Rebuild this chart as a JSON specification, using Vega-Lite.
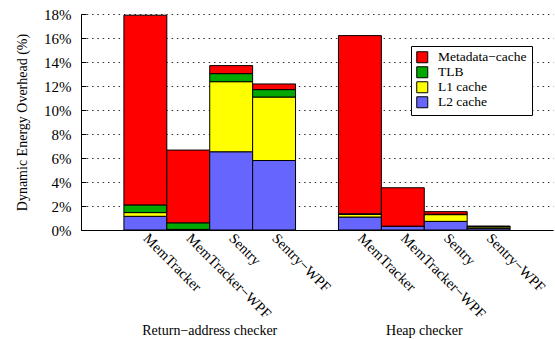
{
  "$schema": "https://vega.github.io/schema/vega-lite/v6.json",
  "width": 472,
  "height": 216,
  "autosize": {"type": "none"},
  "padding": {"left": 81, "top": 14, "right": 2, "bottom": 109},
  "config": {
    "font": "Liberation Serif",
    "view": {"stroke": null},
    "axis": {"labelColor": "black", "titleColor": "black", "domainColor": "black", "tickColor": "black", "labelFont": "Liberation Serif", "titleFont": "Liberation Serif", "titleFontWeight": "normal"},
    "legend": {"labelFont": "Liberation Serif", "labelColor": "black"}
  },
  "layer": [
    {
      "data": {
        "values": [
          {"key": "R:MemTracker", "l2": 1.14, "l1": 0.31, "tlb": 0.64, "meta": 15.81},
          {"key": "R:MemTracker−WPF", "l2": 0.03, "l1": 0.02, "tlb": 0.55, "meta": 6.06},
          {"key": "R:Sentry", "l2": 6.52, "l1": 5.84, "tlb": 0.67, "meta": 0.67},
          {"key": "R:Sentry−WPF", "l2": 5.79, "l1": 5.29, "tlb": 0.62, "meta": 0.47},
          {"key": "H:MemTracker", "l2": 1.08, "l1": 0.22, "tlb": 0.05, "meta": 14.85},
          {"key": "H:MemTracker−WPF", "l2": 0.3, "l1": 0.01, "tlb": 0.01, "meta": 3.2},
          {"key": "H:Sentry", "l2": 0.72, "l1": 0.56, "tlb": 0.04, "meta": 0.21},
          {"key": "H:Sentry−WPF", "l2": 0.14, "l1": 0.12, "tlb": 0.03, "meta": 0.04}
        ]
      },
      "transform": [
        {"fold": ["l2", "l1", "tlb", "meta"], "as": ["series", "value"]},
        {"stack": "value", "groupby": ["key"], "as": ["y0", "y1"]}
      ],
      "mark": {"type": "bar", "stroke": "black", "strokeWidth": 1},
      "encoding": {
        "x": {
          "field": "key",
          "type": "nominal",
          "scale": {
            "domain": ["g1", "R:MemTracker", "R:MemTracker−WPF", "R:Sentry", "R:Sentry−WPF", "g2", "H:MemTracker", "H:MemTracker−WPF", "H:Sentry", "H:Sentry−WPF", "g3"],
            "paddingInner": 0,
            "paddingOuter": 0
          },
          "axis": {
            "title": null,
            "values": ["R:MemTracker", "R:MemTracker−WPF", "R:Sentry", "R:Sentry−WPF", "H:MemTracker", "H:MemTracker−WPF", "H:Sentry", "H:Sentry−WPF"],
            "labelExpr": "split(datum.label, ':')[1]",
            "labelAngle": 45,
            "labelAlign": "left",
            "labelBaseline": "middle",
            "labelFontSize": 14.5,
            "labelPadding": 6,
            "ticks": false,
            "grid": false,
            "domainWidth": 1
          }
        },
        "y": {
          "field": "y0",
          "type": "quantitative",
          "scale": {"domain": [0, 18], "nice": false},
          "axis": {
            "title": "Dynamic Energy Overhead (%)",
            "titleFontSize": 14,
            "titlePadding": 14,
            "values": [0, 2, 4, 6, 8, 10, 12, 14, 16, 18],
            "labelExpr": "datum.value + '%'",
            "labelFontSize": 15,
            "labelPadding": 15,
            "ticks": true,
            "tickSize": -5,
            "tickWidth": 1,
            "grid": true,
            "gridColor": "#333333",
            "gridDash": [1.5, 3.8],
            "gridWidth": 1,
            "domainWidth": 1
          }
        },
        "y2": {"field": "y1"},
        "color": {
          "field": "series",
          "type": "nominal",
          "scale": {"domain": ["meta", "tlb", "l1", "l2"], "range": ["#ff0000", "#00a800", "#ffff00", "#6666ff"]},
          "legend": {
            "title": null,
            "orient": "none",
            "legendX": 330,
            "legendY": 32,
            "labelExpr": "datum.label == 'meta' ? 'Metadata−cache' : datum.label == 'tlb' ? 'TLB' : datum.label == 'l1' ? 'L1 cache' : 'L2 cache'",
            "symbolType": "square",
            "symbolSize": 121,
            "symbolStrokeColor": "black",
            "symbolStrokeWidth": 1,
            "symbolOpacity": 1,
            "strokeColor": "black",
            "fillColor": "white",
            "padding": 4.5,
            "labelFontSize": 13.5,
            "labelOffset": 9,
            "rowPadding": -2.3
          }
        }
      }
    },
    {
      "data": {
        "values": [
          {"key": "R:MemTracker−WPF", "group": "Return−address checker"},
          {"key": "H:MemTracker−WPF", "group": "Heap checker"}
        ]
      },
      "mark": {"type": "text"},
      "encoding": {
        "x": {
          "field": "key",
          "type": "nominal",
          "scale": {
            "domain": ["g1", "R:MemTracker", "R:MemTracker−WPF", "R:Sentry", "R:Sentry−WPF", "g2", "H:MemTracker", "H:MemTracker−WPF", "H:Sentry", "H:Sentry−WPF", "g3"],
            "paddingInner": 0,
            "paddingOuter": 0
          },
          "axis": {
            "orient": "bottom",
            "title": null,
            "values": ["R:MemTracker−WPF", "H:MemTracker−WPF"],
            "labelOffset": 21.5,
            "labelExpr": "datum.label == 'R:MemTracker−WPF' ? 'Return−address checker' : 'Heap checker'",
            "labelAngle": 0,
            "labelAlign": "center",
            "labelBaseline": "top",
            "labelFontSize": 14,
            "labelPadding": 0,
            "offset": 93,
            "domain": false,
            "ticks": false,
            "grid": false
          }
        },
        "text": {"value": ""}
      }
    }
  ],
  "resolve": {"axis": {"x": "independent"}}
}
